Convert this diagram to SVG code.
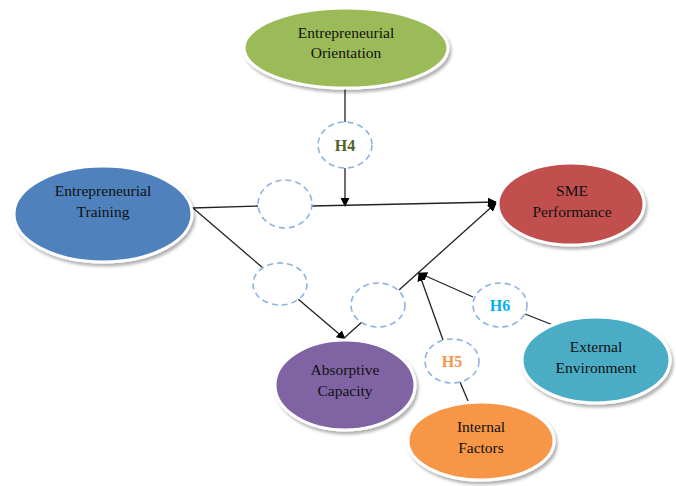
<svg xmlns="http://www.w3.org/2000/svg" width="676" height="486" viewBox="0 0 676 486">
<defs>
<marker id="arr" viewBox="0 0 10 10" refX="9" refY="5" markerWidth="9" markerHeight="9" markerUnits="userSpaceOnUse" orient="auto">
<path d="M0,0 L10,5 L0,10 z" fill="#000"/>
</marker>
<filter id="sh" x="-10%" y="-10%" width="125%" height="130%">
<feDropShadow dx="2" dy="3" stdDeviation="1.5" flood-color="#000" flood-opacity="0.3"/>
</filter>
</defs>
<style>
.node{stroke:#fff;stroke-width:3;filter:url(#sh)}
.lbl{font-family:"Liberation Serif","Times New Roman",serif;font-size:15.5px;fill:#111;text-anchor:middle}
.dc{fill:#fff;stroke:#8DB3E2;stroke-width:1.6;stroke-dasharray:6,4}
.h{font-family:"Liberation Serif","Times New Roman",serif;font-size:16px;font-weight:bold;text-anchor:middle}
.ln{stroke:#222;stroke-width:1.3;fill:none}
</style>
<rect width="676" height="486" fill="#fff"/>
<g id="connectors">
<line class="ln" x1="345" y1="88" x2="345" y2="122"/>
<line class="ln" x1="345" y1="168" x2="345" y2="206" marker-end="url(#arr)"/>
<line class="ln" x1="192" y1="208" x2="258" y2="206"/>
<line class="ln" x1="312" y1="206" x2="496" y2="202" marker-end="url(#arr)"/>
<line class="ln" x1="193" y1="208" x2="263" y2="268"/>
<line class="ln" x1="298" y1="299" x2="345" y2="339" marker-end="url(#arr)"/>
<line class="ln" x1="343" y1="339" x2="362" y2="322"/>
<line class="ln" x1="399" y1="290" x2="496" y2="203" marker-end="url(#arr)"/>
<line class="ln" x1="443" y1="340" x2="419" y2="273" marker-end="url(#arr)"/>
<line class="ln" x1="473" y1="297" x2="419" y2="273" marker-end="url(#arr)"/>
<line class="ln" x1="468" y1="401" x2="460" y2="382"/>
<line class="ln" x1="553" y1="325" x2="525" y2="314"/>
</g>
<g id="eo">
<ellipse class="node" cx="346" cy="48" rx="102" ry="40" fill="#9BBB59"/>
<text class="lbl" x="346" y="38">Entrepreneurial</text>
<text class="lbl" x="346" y="58">Orientation</text>
</g>
<g id="et">
<ellipse class="node" cx="103" cy="214" rx="89" ry="48" fill="#4F81BD"/>
<text class="lbl" x="103" y="196">Entrepreneurial</text>
<text class="lbl" x="103" y="217">Training</text>
</g>
<g id="sme">
<ellipse class="node" cx="571" cy="204" rx="73" ry="41" fill="#C0504D"/>
<text class="lbl" x="572" y="196">SME</text>
<text class="lbl" x="572" y="217">Performance</text>
</g>
<g id="ac">
<ellipse class="node" cx="345" cy="385" rx="70" ry="45" fill="#8064A2"/>
<text class="lbl" x="345" y="375">Absorptive</text>
<text class="lbl" x="345" y="396">Capacity</text>
</g>
<g id="if">
<ellipse class="node" cx="481" cy="441" rx="73" ry="39" fill="#F79646"/>
<text class="lbl" x="481" y="432">Internal</text>
<text class="lbl" x="481" y="453">Factors</text>
</g>
<g id="ee">
<ellipse class="node" cx="596" cy="360" rx="74" ry="43" fill="#4BACC6"/>
<text class="lbl" x="596" y="352">External</text>
<text class="lbl" x="596" y="373">Environment</text>
</g>
<g id="h4">
<ellipse class="dc" cx="345" cy="145" rx="27" ry="23"/>
<text class="h" x="345" y="151" fill="#4F6228">H4</text>
</g>
<g id="m1">
<ellipse class="dc" cx="285" cy="204" rx="27" ry="24"/>
</g>
<g id="m2">
<ellipse class="dc" cx="280" cy="284" rx="27" ry="21"/>
</g>
<g id="m3">
<ellipse class="dc" cx="378" cy="305" rx="27" ry="22"/>
</g>
<g id="h5">
<ellipse class="dc" cx="452" cy="361" rx="27" ry="22"/>
<text class="h" x="452" y="367" fill="#F79646">H5</text>
</g>
<g id="h6">
<ellipse class="dc" cx="500" cy="305" rx="27" ry="22"/>
<text class="h" x="500" y="311" fill="#00B0F0">H6</text>
</g>
</svg>
